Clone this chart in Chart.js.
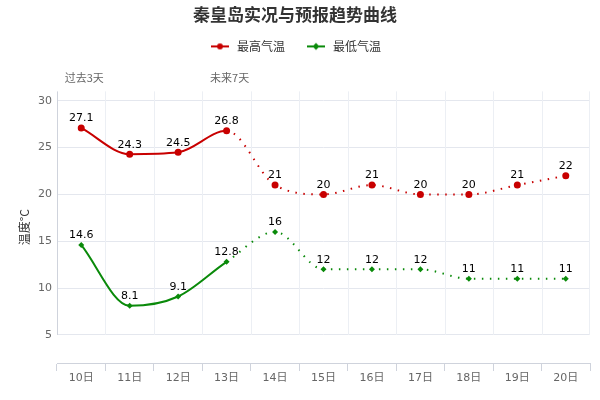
<!DOCTYPE html>
<html>
<head>
<meta charset="utf-8">
<script src="https://cdn.jsdelivr.net/npm/chart.js@4/dist/chart.umd.min.js"></script>
<style>
  html, body { margin: 0; padding: 0; background: #fff; }
  #wrap { width: 600px; height: 400px; }
</style>
</head>
<body>
<div id="wrap"><canvas id="tempChart" width="600" height="400"></canvas></div>
<script>
var days = ['10日', '11日', '12日', '13日', '14日', '15日', '16日', '17日', '18日', '19日', '20日'];
var highTemps = [27.1, 24.3, 24.5, 26.8, 21, 20, 21, 20, 20, 21, 22];
var lowTemps = [14.6, 8.1, 9.1, 12.8, 16, 12, 12, 12, 11, 11, 11];
var yTicks = [5, 10, 15, 20, 25, 30];
var pastLabel = '过去3天';
var futureLabel = '未来7天';
var lastObservedIndex = 3;

var redColor = '#c80000';
var greenColor = '#0a8a0a';
var cjkFont = '"Noto Sans CJK SC", "DejaVu Sans", sans-serif';
var numFont = '"DejaVu Sans", "Noto Sans CJK SC", sans-serif';

function legendIcon(color, style) {
    var c = document.createElement('canvas');
    c.width = 20; c.height = 10;
    var g = c.getContext('2d');
    g.strokeStyle = color; g.lineWidth = 2;
    g.beginPath(); g.moveTo(1, 5); g.lineTo(19, 5); g.stroke();
    g.fillStyle = color;
    g.beginPath();
    if (style === 'circle') {
        g.arc(10, 5, 3, 0, Math.PI * 2);
    } else {
        g.moveTo(10, 1.5); g.lineTo(13.5, 5); g.lineTo(10, 8.5); g.lineTo(6.5, 5); g.closePath();
    }
    g.fill();
    return c;
}

// dotted segments after the last observed day
function segmentDash(ctx) {
    return ctx.p0DataIndex >= lastObservedIndex ? [1.5, 6.5] : undefined;
}

var extrasPlugin = {
    id: 'extras',
    beforeInit: function(chart) {
        // leave room under the legend for the period labels
        var origFit = chart.legend.fit;
        chart.legend.fit = function() {
            origFit.call(this);
            this.height += 29;
        };
    },
    beforeDatasetsDraw: function(chart) {
        var g = chart.ctx, area = chart.chartArea;
        var xs = chart.scales.x, ys = chart.scales.y;
        var y5 = ys.getPixelForValue(5);
        g.save();
        g.lineWidth = 1;
        g.strokeStyle = '#eceff4';
        for (var i = 1; i < days.length; i++) {
            var px = Math.round((xs.getPixelForValue(i - 1) + xs.getPixelForValue(i)) / 2) + 0.5;
            g.beginPath(); g.moveTo(px, area.top); g.lineTo(px, y5); g.stroke();
        }
        g.beginPath(); g.moveTo(Math.round(area.right) - 0.5, area.top); g.lineTo(Math.round(area.right) - 0.5, y5); g.stroke();
        g.strokeStyle = '#cfd3dc';
        g.beginPath(); g.moveTo(Math.round(area.left) + 0.5, area.top); g.lineTo(Math.round(area.left) + 0.5, y5); g.stroke();
        g.restore();
    },
    afterDatasetsDraw: function(chart) {
        var g = chart.ctx, area = chart.chartArea;
        var xs = chart.scales.x;
        g.save();
        g.font = '11px ' + numFont;
        g.fillStyle = '#000';
        g.textAlign = 'center';
        g.textBaseline = 'bottom';
        chart.data.datasets.forEach(function(ds, di) {
            var meta = chart.getDatasetMeta(di);
            meta.data.forEach(function(pt, j) {
                g.fillText(String(ds.data[j]), pt.x, pt.y - 4);
            });
        });
        g.font = '11px ' + cjkFont;
        g.fillStyle = '#666';
        g.textBaseline = 'middle';
        g.fillText(pastLabel, xs.getPixelForValue(0) + 3, area.top - 14);
        g.fillText(futureLabel, xs.getPixelForValue(lastObservedIndex) + 3, area.top - 14);
        g.restore();
    }
};

var ctxTemp = document.getElementById('tempChart').getContext('2d');
var tempChart = new Chart(ctxTemp, {
    type: 'line',
    data: {
        labels: days,
        datasets: [{
            label: '最高气温',
            data: highTemps,
            borderColor: redColor,
            backgroundColor: redColor,
            borderWidth: 2,
            pointStyle: 'circle',
            pointRadius: 3.5,
            pointBorderWidth: 0,
            cubicInterpolationMode: 'monotone',
            fill: false,
            segment: { borderDash: segmentDash }
        },
        {
            label: '最低气温',
            data: lowTemps,
            borderColor: greenColor,
            backgroundColor: greenColor,
            borderWidth: 2,
            pointStyle: 'rectRot',
            pointRadius: 3,
            pointBorderWidth: 0,
            cubicInterpolationMode: 'monotone',
            fill: false,
            segment: { borderDash: segmentDash }
        }]
    },
    options: {
        responsive: false,
        animation: false,
        layout: { padding: { left: 0, right: 10, top: 0, bottom: 0 } },
        plugins: {
            title: {
                display: true,
                text: '秦皇岛实况与预报趋势曲线',
                color: '#333',
                font: { family: cjkFont, size: 17, weight: 'bold' },
                padding: { top: 4, bottom: -4 }
            },
            legend: {
                labels: {
                    color: '#333',
                    font: { family: cjkFont, size: 12 },
                    boxWidth: 20,
                    boxHeight: 10,
                    pointStyleWidth: 22,
                    padding: 20,
                    usePointStyle: true,
                    generateLabels: function(chart) {
                        return chart.data.datasets.map(function(ds, i) {
                            return {
                                text: ds.label,
                                fontColor: '#333',
                                pointStyle: legendIcon(ds.borderColor, i === 0 ? 'circle' : 'diamond'),
                                datasetIndex: i,
                                hidden: false,
                                lineWidth: 0
                            };
                        });
                    }
                }
            },
            tooltip: { enabled: false }
        },
        scales: {
            x: {
                offset: true,
                grid: { offset: true, drawOnChartArea: false, drawTicks: true, tickLength: 8, color: '#cfd3dc' },
                border: { display: true, color: '#cfd3dc' },
                ticks: { color: '#666', padding: 1, font: { family: numFont, size: 11 } },
                afterFit: function(scale) { scale.height = 37; }
            },
            y: {
                min: 2,
                max: 31,
                afterBuildTicks: function(axis) {
                    axis.ticks = yTicks.map(function(v) { return { value: v }; });
                },
                grid: { drawTicks: false, color: '#e4e7ee' },
                border: { display: false },
                ticks: { color: '#666', padding: 5, font: { family: numFont, size: 11 } },
                title: {
                    display: true,
                    text: '温度°C',
                    color: '#333',
                    font: { family: cjkFont, size: 12 },
                    padding: { top: 17, bottom: 0 }
                },
                afterFit: function(scale) { scale.width = 57; }
            }
        }
    },
    plugins: [extrasPlugin]
});
</script>
</body>
</html>
